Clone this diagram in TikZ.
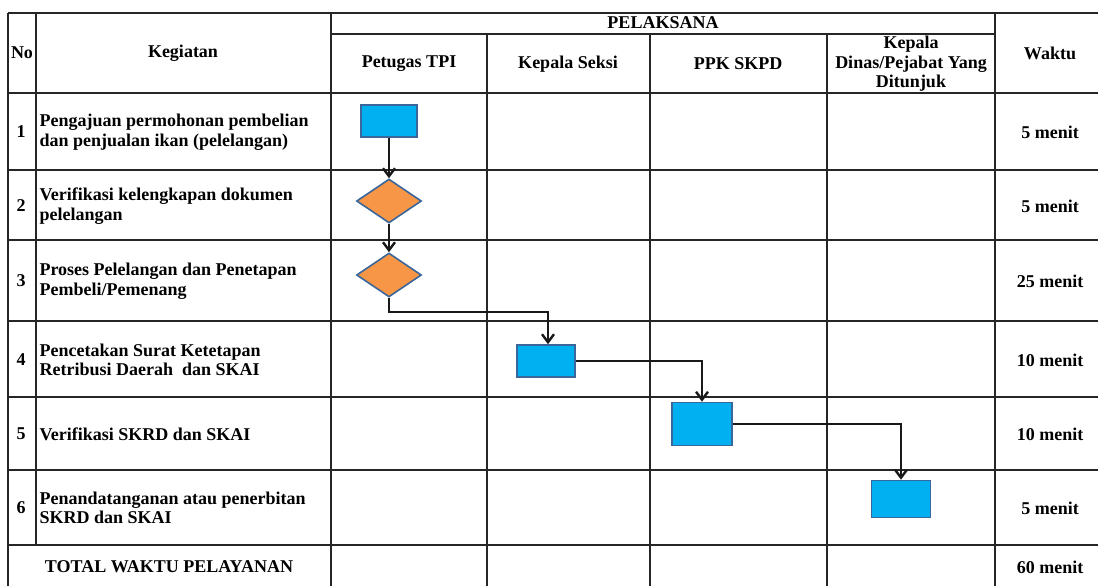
\documentclass[tikz,border=0pt]{standalone}
\usepackage{fontspec}
\setmainfont{Liberation Serif}
\usetikzlibrary{arrows.meta, shapes.geometric}

\definecolor{kotakbiru}{HTML}{00B0F0}
\definecolor{belahoranye}{HTML}{F79646}
\definecolor{garisbiru}{HTML}{3A669A}

\begin{document}
\begin{tikzpicture}[
		x=1pt, y=-1pt, % pixel-like units, y downwards
		font=\fontsize{18}{19.5}\selectfont\bfseries,
		>={Straight Barb[length=8pt,width=12pt]},
		grid/.style={line width=1.3pt, black!85},
		proses/.style={rectangle, draw=garisbiru, fill=kotakbiru, line width=1.6pt, inner sep=0pt},
		keputusan/.style={diamond, draw=garisbiru, fill=belahoranye, line width=1.6pt, inner sep=0pt,
			minimum width=65pt, minimum height=44pt},
		alur/.style={->, line width=2.4pt, black!90},
		kegiatan/.style={anchor=west, align=left}
		]
		
		\useasboundingbox (0,0) rectangle (1098,586);
		\clip (0,0) rectangle (1098,586);
		
		% --- 1. Table Lines ---
		\draw[grid] (8,13) -- (1110,13);
		\draw[grid] (331,34) -- (995,34);
		\foreach \y in {93,170,240,321,397,470}
			\draw[grid] (8,\y) -- (1110,\y);
		\draw[grid, line width=2.6pt] (8,545) -- (1110,545); % above total
		\draw[grid] (8,13) -- (8,600);
		\draw[grid] (36,13) -- (36,545);
		\foreach \x in {331,995}
			\draw[grid] (\x,13) -- (\x,600);
		\foreach \x in {487,650,827}
			\draw[grid] (\x,34) -- (\x,600);
		
		% --- 2. Header ---
		\node (hno) at (22,53) {No};
		\node (hkeg) at (183,53) {Kegiatan};
		\node (hpel) at (663,23) {PELAKSANA};
		\node (htpi) at (409,64) {Petugas TPI};
		\node (hseksi) at (568,64) {Kepala Seksi};
		\node (hppk) at (738,64) {PPK SKPD};
		\node[align=center] (hdinas) at (911,64) {Kepala\\Dinas/Pejabat Yang\\Ditunjuk};
		\node (hwaktu) at (1050,53) {Waktu};
		
		% --- 3. Rows: No, Kegiatan, Waktu ---
		\node (no1) at (21,132) {1};
		\node[kegiatan] (keg1) at (36,132) {Pengajuan permohonan pembelian\\dan penjualan ikan (pelelangan)};
		\node (wkt1) at (1050,132) {5 menit};
		
		\node (no2) at (21,206) {2};
		\node[kegiatan] (keg2) at (36,206) {Verifikasi kelengkapan dokumen\\pelelangan};
		\node (wkt2) at (1050,206) {5 menit};
		
		\node (no3) at (21,281) {3};
		\node[kegiatan] (keg3) at (36,281) {Proses Pelelangan dan Penetapan\\Pembeli/Pemenang};
		\node (wkt3) at (1050,281) {25 menit};
		
		\node (no4) at (21,360) {4};
		\node[kegiatan] (keg4) at (36,360) {Pencetakan Surat Ketetapan\\Retribusi Daerah\ \ dan SKAI};
		\node (wkt4) at (1050,360) {10 menit};
		
		\node (no5) at (21,434) {5};
		\node[kegiatan] (keg5) at (36,434) {Verifikasi SKRD dan SKAI};
		\node (wkt5) at (1050,434) {10 menit};
		
		\node (no6) at (21,508) {6};
		\node[kegiatan] (keg6) at (36,508) {Penandatanganan atau penerbitan\\SKRD dan SKAI};
		\node (wkt6) at (1050,508) {5 menit};
		
		\node (total) at (169,567) {TOTAL WAKTU PELAYANAN};
		\node (wkttotal) at (1050,567) {60 menit};
		
		% --- 4. Flow Symbols ---
		\node[proses, minimum width=56pt, minimum height=32pt] (aju) at (389,121) {};
		\node[keputusan] (verif) at (389,201) {};
		\node[keputusan] (lelang) at (389,275) {};
		\node[proses, minimum width=58pt, minimum height=32pt] (cetak) at (546,361) {};
		\node[proses, minimum width=60pt, minimum height=43pt] (verskrd) at (702,424) {};
		\node[proses, minimum width=59pt, minimum height=37pt] (ttd) at (901,499) {};
		
		\coordinate (belok) at (548,312);
		
		% --- 5. Connectors ---
		\draw[alur] (aju) -- (verif);
		\draw[alur] (verif) -- (lelang);
		\draw[alur] (lelang.south) |- (belok) -- (belok |- cetak.north);
		\draw[alur] (cetak.east) -| (verskrd.north);
		\draw[alur] (verskrd.east) -| (ttd.north);
		
	\end{tikzpicture}
\end{document}
